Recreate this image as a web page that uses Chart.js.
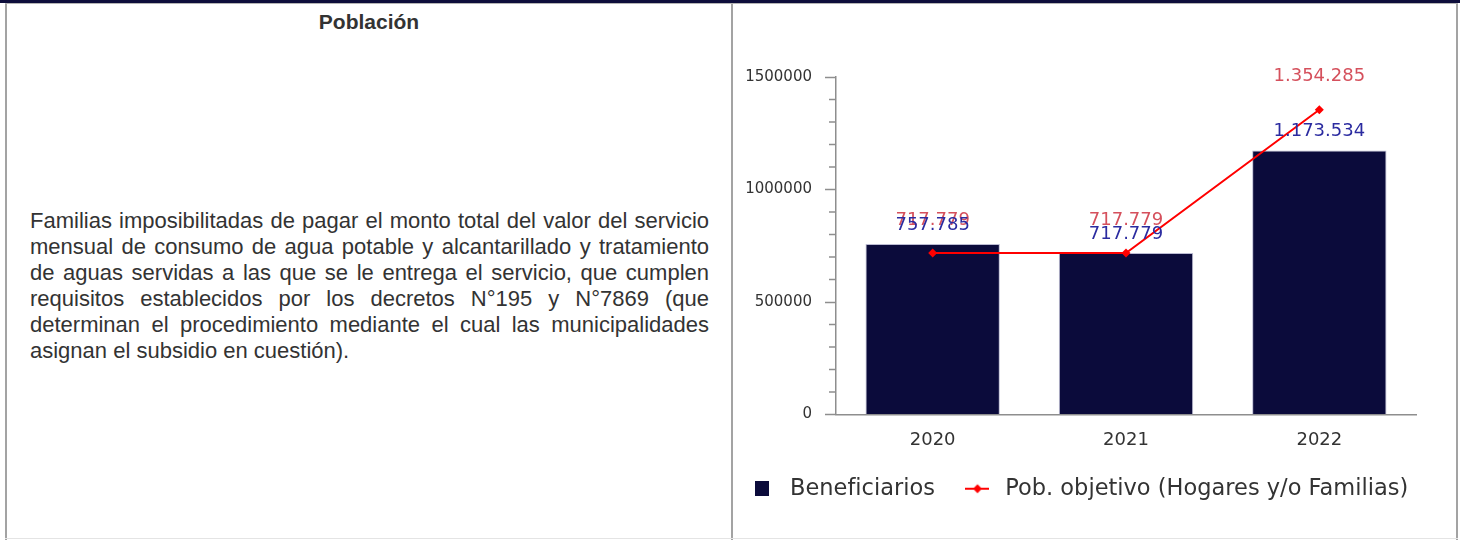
<!DOCTYPE html>
<html lang="es">
<head>
<meta charset="utf-8">
<title>Población</title>
<script src="https://cdn.jsdelivr.net/npm/chart.js@4.4.1/dist/chart.umd.min.js"></script>
<style>
  html, body { margin: 0; padding: 0; background: #fff; }
  body { width: 1460px; height: 540px; position: relative; overflow: hidden; font-family: "Liberation Sans", Arial, sans-serif; color: #333; }
  .band { position: absolute; left: 0; top: 0; width: 1460px; height: 3px; background: #0d0d3b; }
  .hline { position: absolute; left: 5px; top: 3px; width: 1453px; height: 1px; background: #b5b5b5; }
  .vline { position: absolute; top: 4px; width: 2px; height: 536px; background: #a3a3a3; }
  .bline { position: absolute; left: 5px; top: 538px; width: 1453px; height: 1px; background: #e4e4e4; }
  .head { position: absolute; left: 7px; width: 724px; top: 10px; text-align: center; font-weight: bold; font-size: 21px; line-height: 24px; color: #333; }
  .ln { position: absolute; left: 30px; width: 679px; font-size: 22px; line-height: 26px; text-align: justify; text-align-last: justify; color: #333; }
  .ln.last { text-align: left; text-align-last: left; }
  #chart { position: absolute; left: 698px; top: 6px; }
</style>
</head>
<body>
<div class="band"></div>
<div class="hline"></div>
<div class="vline" style="left:5px"></div>
<div class="vline" style="left:731px"></div>
<div class="vline" style="left:1456px"></div>
<div class="bline"></div>

<div class="head">Población</div>
<div class="ln" style="top:208px">Familias imposibilitadas de pagar el monto total del valor del servicio</div>
<div class="ln" style="top:234px">mensual de consumo de agua potable y alcantarillado y tratamiento</div>
<div class="ln" style="top:260px">de aguas servidas a las que se le entrega el servicio, que cumplen</div>
<div class="ln" style="top:286px">requisitos establecidos por los decretos N°195 y N°7869 (que</div>
<div class="ln" style="top:312px">determinan el procedimiento mediante el cual las municipalidades</div>
<div class="ln last" style="top:338px">asignan el subsidio en cuestión).</div>

<canvas id="chart" width="758" height="534"></canvas>

<script>
// data
const years = ['2020', '2021', '2022'];
const beneficiarios = [757785, 717779, 1173534];
const pobObjetivo = [717779, 717779, 1354285];
const yMax = 1500000;
const yStep = 100000;
const yLabelValues = [0, 500000, 1000000, 1500000];

const navy = '#0b0b3b';
const axisGray = '#8e8e8e';
const textGray = '#333333';

Chart.defaults.font.family = '"DejaVu Sans", sans-serif';

// 1.354.285 style
function fmt(n) {
    return String(n).replace(/\B(?=(\d{3})+(?!\d))/g, '.');
}

// legend icons
function squareIcon() {
    const c = document.createElement('canvas');
    c.width = 14; c.height = 15;
    const g = c.getContext('2d');
    g.fillStyle = navy;
    g.fillRect(0, 0, 14, 15);
    return c;
}
function lineIcon() {
    const c = document.createElement('canvas');
    c.width = 24; c.height = 12;
    const g = c.getContext('2d');
    g.strokeStyle = '#ff0000';
    g.lineWidth = 2;
    g.beginPath(); g.moveTo(0, 6); g.lineTo(24, 6); g.stroke();
    g.fillStyle = '#ff0000';
    g.beginPath(); g.moveTo(12, 1.5); g.lineTo(16.5, 6); g.lineTo(12, 10.5); g.lineTo(7.5, 6); g.closePath(); g.fill();
    return c;
}

// value labels above bars / points, plus short minor ticks on the y axis
const extras = {
    id: 'extras',
    afterDatasetsDraw(chart) {
        const ctx = chart.ctx;
        ctx.save();
        ctx.font = '18px "DejaVu Sans"';
        ctx.textAlign = 'center';
        ctx.textBaseline = 'middle';
        chart.getDatasetMeta(1).data.forEach((pt, i) => {
            ctx.fillStyle = '#d5505c';
            ctx.fillText(fmt(pobObjetivo[i]), pt.x, pt.y - 33);
        });
        chart.getDatasetMeta(0).data.forEach((bar, i) => {
            ctx.fillStyle = '#2b2ba0';
            ctx.fillText(fmt(beneficiarios[i]), bar.x, bar.y - 19);
        });

        const y = chart.scales.y;
        ctx.strokeStyle = axisGray;
        ctx.lineWidth = 1.5;
        ctx.beginPath();
        y.ticks.forEach(t => {
            if (yLabelValues.includes(t.value)) return;
            const py = y.getPixelForValue(t.value);
            ctx.moveTo(y.right - 7, py);
            ctx.lineTo(y.right, py);
        });
        ctx.stroke();
        ctx.restore();
    }
};

const chart = new Chart(document.getElementById('chart').getContext('2d'), {
    type: 'bar',
    data: {
        labels: years,
        datasets: [{
            type: 'bar',
            label: 'Beneficiarios',
            data: beneficiarios,
            yAxisID: 'y',
            backgroundColor: navy,
            borderColor: 'rgba(180, 180, 205, 0.9)',
            borderWidth: 1,
            categoryPercentage: 1,
            barPercentage: 0.695,
            order: 1
        }, {
            type: 'line',
            label: 'Pob. objetivo (Hogares y/o Familias)',
            data: pobObjetivo,
            yAxisID: 'y',
            borderColor: '#ff0000',
            backgroundColor: '#ff0000',
            borderWidth: 2,
            pointStyle: 'rectRot',
            pointRadius: 4.5,
            pointBorderWidth: 0,
            tension: 0,
            order: 0
        }]
    },
    options: {
        responsive: false,
        animation: false,
        devicePixelRatio: 1,
        layout: { padding: { top: 71, left: 0, right: 0, bottom: 30 } },
        plugins: {
            tooltip: { enabled: false },
            legend: {
                position: 'bottom',
                labels: {
                    usePointStyle: true,
                    pointStyleWidth: 33,
                    padding: 26,
                    color: textGray,
                    font: { size: 22.5 },
                    generateLabels: (ch) => [
                        { text: ch.data.datasets[0].label, pointStyle: squareIcon(), fontColor: textGray, lineWidth: 0, strokeStyle: 'transparent', fillStyle: navy, datasetIndex: 0 },
                        { text: ch.data.datasets[1].label, pointStyle: lineIcon(), fontColor: textGray, lineWidth: 0, strokeStyle: 'transparent', fillStyle: '#ff0000', datasetIndex: 1 }
                    ]
                }
            }
        },
        scales: {
            x: {
                grid: { display: false, drawTicks: false },
                border: { display: true, color: axisGray, width: 1.5 },
                ticks: { color: textGray, font: { size: 18 }, padding: 15 },
                afterFit: (s) => { s.height = 37; }
            },
            y: {
                position: 'left',
                min: 0,
                max: yMax,
                grid: {
                    drawOnChartArea: false,
                    drawTicks: true,
                    tickLength: 11,
                    tickWidth: 1.5,
                    tickColor: (c) => (c.tick && yLabelValues.includes(c.tick.value)) ? axisGray : 'transparent'
                },
                border: { display: true, color: axisGray, width: 1.5 },
                ticks: {
                    stepSize: yStep,
                    autoSkip: false,
                    color: textGray,
                    font: { size: 15 },
                    padding: 13,
                    callback: (v) => yLabelValues.includes(v) ? String(v) : ''
                },
                afterFit: (s) => { s.width = 138; }
            },
            // empty spacer on the right so the plot ends where the reference does
            y2: {
                type: 'linear',
                position: 'right',
                grid: { display: false, drawTicks: false },
                border: { display: false },
                ticks: { display: false },
                afterFit: (s) => { s.width = 40; }
            }
        }
    },
    plugins: [extras]
});
</script>
</body>
</html>
